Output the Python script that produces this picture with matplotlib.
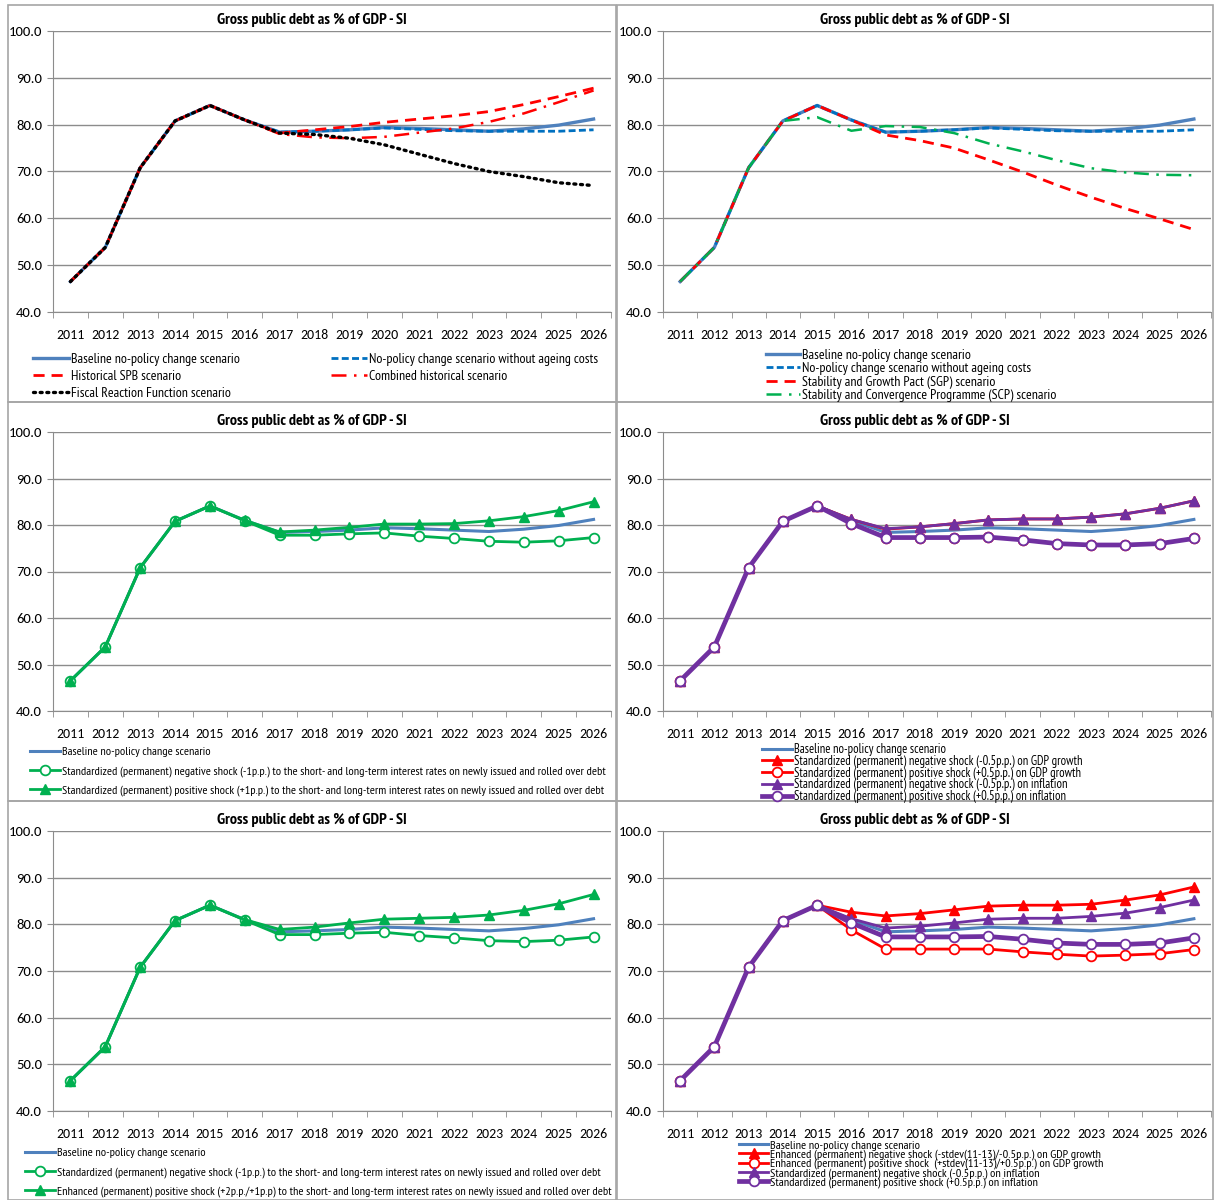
import matplotlib
matplotlib.use('Agg')
import matplotlib.pyplot as plt
from matplotlib.patches import Rectangle

years = [str(y) for y in range(2011, 2027)]

baseline = [46.5, 53.8, 70.8, 80.8, 84.1, 81.0, 78.4, 78.6, 78.9, 79.4, 79.2, 78.9, 78.6, 79.1, 79.9, 81.2]
no_ageing = [46.5, 53.8, 70.8, 80.8, 84.1, 81.0, 78.4, 78.6, 78.9, 79.3, 79.0, 78.7, 78.6, 78.6, 78.6, 78.9]
hist_spb = [46.5, 53.8, 70.8, 80.8, 84.1, 81.0, 78.2, 78.9, 79.6, 80.5, 81.2, 81.9, 82.8, 84.3, 86.0, 87.8]
combined = [46.5, 53.8, 70.8, 80.8, 84.1, 81.0, 78.0, 77.3, 77.1, 77.4, 78.3, 79.2, 80.6, 82.4, 84.8, 87.3]
frf = [46.5, 53.8, 70.8, 80.8, 84.1, 81.0, 78.2, 77.9, 77.1, 75.7, 73.7, 71.7, 70.0, 68.9, 67.6, 67.0]

sgp = [46.5, 53.8, 70.8, 80.8, 84.1, 81.0, 77.8, 76.6, 75.0, 72.5, 69.9, 67.1, 64.5, 62.1, 59.9, 57.6]
scp = [46.5, 53.8, 70.8, 80.8, 81.6, 78.7, 79.7, 79.5, 78.2, 76.0, 74.3, 72.4, 70.7, 69.8, 69.3, 69.2]

int_neg = [46.5, 53.8, 70.8, 80.8, 84.1, 80.9, 77.8, 77.8, 78.1, 78.3, 77.6, 77.1, 76.5, 76.3, 76.6, 77.3]
int_pos = [46.5, 53.8, 70.8, 80.8, 84.1, 81.0, 78.5, 78.9, 79.5, 80.2, 80.2, 80.3, 80.9, 81.8, 83.1, 85.0]
int_pos_enh = [46.5, 53.8, 70.8, 80.8, 84.1, 81.0, 78.9, 79.4, 80.3, 81.1, 81.3, 81.5, 82.0, 83.0, 84.4, 86.4]

gdp_neg = [46.5, 53.8, 70.8, 80.8, 84.1, 81.2, 79.1, 79.6, 80.3, 81.1, 81.3, 81.3, 81.7, 82.4, 83.6, 85.2]
gdp_pos = [46.5, 53.8, 70.8, 80.8, 84.1, 80.3, 77.3, 77.3, 77.3, 77.4, 76.8, 76.0, 75.7, 75.7, 76.0, 77.1]
infl_neg = [46.5, 53.8, 70.8, 80.8, 84.1, 81.2, 79.2, 79.6, 80.3, 81.1, 81.3, 81.3, 81.7, 82.4, 83.6, 85.2]
infl_pos = [46.5, 53.8, 70.8, 80.8, 84.1, 80.3, 77.3, 77.3, 77.3, 77.4, 76.8, 76.0, 75.7, 75.7, 76.0, 77.1]
gdp_neg_enh = [46.5, 53.8, 70.8, 80.8, 84.1, 82.6, 81.8, 82.3, 83.1, 83.9, 84.1, 84.1, 84.3, 85.2, 86.3, 88.0]
gdp_pos_enh = [46.5, 53.8, 70.8, 80.8, 84.1, 78.8, 74.7, 74.7, 74.7, 74.7, 74.1, 73.6, 73.2, 73.4, 73.7, 74.6]

title = 'Gross public debt as % of GDP - SI'

BLUE = '#4F81BD'
DBLUE = '#0070C0'
RED = '#FF0000'
GREEN = '#00B050'
PURPLE = '#7030A0'
GRID = '#8C8C8C'
TICK_FONT = ['Carlito', 'DejaVu Sans']

plt.rcParams['font.family'] = ['PT Sans Narrow', 'DejaVu Sans']

W, H = 1216, 1200
fig = plt.figure(figsize=(W / 100, H / 100), dpi=100)


def fx(px):
    return px / W


def fy(py):
    return 1 - py / H


def setup_axes(left, right, top, bottom, box):
    # рамка панели
    bx0, by0, bx1, by1 = box
    fig.patches.append(Rectangle((fx(bx0), fy(by1)), fx(bx1 - bx0), (by1 - by0) / H,
                                 transform=fig.transFigure, fill=False,
                                 edgecolor='#A6A6A6', linewidth=1.2))
    ax = fig.add_axes([fx(left), fy(bottom), fx(right - left), (bottom - top) / H])
    ax.set_xlim(-0.5, 15.5)
    ax.set_ylim(40, 100)
    ax.set_yticks(range(40, 101, 10))
    ax.set_yticklabels([f'{v:.1f}' for v in range(40, 101, 10)], fontsize=10.5, family=TICK_FONT)
    ax.set_xticks(range(len(years)))
    ax.set_xticklabels(years, fontsize=10, family=TICK_FONT)
    ax.set_xticks([i - 0.5 for i in range(len(years) + 1)], minor=True)
    ax.tick_params(axis='x', which='major', length=0, pad=12)
    ax.tick_params(axis='x', which='minor', length=4, color=GRID, direction='out')
    ax.tick_params(axis='y', length=4, color=GRID, pad=4)
    ax.grid(True, axis='y', color=GRID, linewidth=1)
    ax.set_axisbelow(True)
    for s in ['top', 'right']:
        ax.spines[s].set_visible(False)
    for s in ['left', 'bottom']:
        ax.spines[s].set_color(GRID)
    fig.text(fx((bx0 + bx1) / 2), fy(top - 11), title, ha='center', va='center',
             fontsize=11.5, fontweight='bold')
    return ax


def add_legend(handles, labels, x, y, size, spacing, hlen):
    fig.legend(handles, labels, loc='upper left', bbox_to_anchor=(fx(x), fy(y)),
               bbox_transform=fig.transFigure, frameon=False, fontsize=size,
               handlelength=hlen, handletextpad=0.15, labelspacing=spacing,
               borderpad=0, borderaxespad=0)


x = list(range(len(years)))

# --- панель 1 ---
ax = setup_axes(53, 611, 31, 312, (8, 5, 616, 402))
l1, = ax.plot(x, baseline, color=BLUE, lw=2.4)
l2, = ax.plot(x, no_ageing, color=DBLUE, lw=2, dashes=(2.5, 1.2))
l3, = ax.plot(x, hist_spb, color=RED, lw=2, dashes=(4, 2.5))
l4, = ax.plot(x, combined, color=RED, lw=1.8, dashes=(6, 3, 1, 3))
l5, = ax.plot(x, frf, color='black', lw=2.4, linestyle=(0, (0.6, 1.4)), dash_capstyle='round')
add_legend([l1, l3, l5], ['Baseline no-policy change scenario', 'Historical SPB scenario',
                          'Fiscal Reaction Function scenario'], 33, 353, 10, 0.3, 2.6)
add_legend([l2, l4], ['No-policy change scenario without ageing costs',
                      'Combined historical scenario'], 331, 353, 10, 0.3, 2.6)

# --- панель 2 ---
ax = setup_axes(663, 1211, 31, 312, (617, 5, 1213, 402))
l1, = ax.plot(x, baseline, color=BLUE, lw=2.4)
l2, = ax.plot(x, no_ageing, color=DBLUE, lw=2, dashes=(2.5, 1.2))
l3, = ax.plot(x, sgp, color=RED, lw=2, dashes=(4, 2.5))
l4, = ax.plot(x, scp, color=GREEN, lw=1.8, dashes=(6, 3, 1, 3))
add_legend([l1, l2, l3, l4], ['Baseline no-policy change scenario',
                              'No-policy change scenario without ageing costs',
                              'Stability and Growth Pact (SGP) scenario',
                              'Stability and Convergence Programme (SCP) scenario'],
           766, 349, 10, 0.02, 2.45)

# --- панель 3 ---
ax = setup_axes(53, 611, 432, 711, (8, 402, 616, 801))
l1, = ax.plot(x, baseline, color=BLUE, lw=2.2)
l2, = ax.plot(x, int_neg, color=GREEN, lw=2, marker='o', ms=7, mfc='white', mec=GREEN, mew=1.3)
l3, = ax.plot(x, int_pos, color=GREEN, lw=2, marker='^', ms=7)
add_legend([l1, l2, l3], ['Baseline no-policy change scenario',
                          'Standardized (permanent) negative shock (-1p.p.) to the short- and long-term interest rates on newly issued and rolled over debt',
                          'Standardized (permanent) positive shock (+1p.p.) to the short- and long-term interest rates on newly issued and rolled over debt'],
           30, 747, 8.7, 0.68, 2.5)

# --- панель 4 ---
ax = setup_axes(663, 1211, 432, 711, (617, 402, 1213, 801))
l1, = ax.plot(x, baseline, color=BLUE, lw=2.2)
l2, = ax.plot(x, gdp_neg, color=RED, lw=2, marker='^', ms=7)
l3, = ax.plot(x, gdp_pos, color=RED, lw=2, marker='o', ms=7, mfc='white', mec=RED, mew=1.3)
l4, = ax.plot(x, infl_neg, color=PURPLE, lw=2, marker='^', ms=7)
l5, = ax.plot(x, infl_pos, color=PURPLE, lw=3.4, marker='o', ms=7, mfc='white', mec=PURPLE, mew=1.3)
add_legend([l1, l2, l3, l4, l5], ['Baseline no-policy change scenario',
                                  'Standardized (permanent) negative shock (-0.5p.p.) on GDP growth',
                                  'Standardized (permanent) positive shock (+0.5p.p.) on GDP growth',
                                  'Standardized (permanent) negative shock (-0.5p.p.) on inflation',
                                  'Standardized (permanent) positive shock (+0.5p.p.) on inflation'],
           762, 743, 9, -0.1, 2.4)

# --- панель 5 ---
ax = setup_axes(53, 611, 831, 1111, (8, 801, 616, 1200))
l1, = ax.plot(x, baseline, color=BLUE, lw=2.2)
l2, = ax.plot(x, int_neg, color=GREEN, lw=2, marker='o', ms=7, mfc='white', mec=GREEN, mew=1.3)
l3, = ax.plot(x, int_pos_enh, color=GREEN, lw=2, marker='^', ms=7)
add_legend([l1, l2, l3], ['Baseline no-policy change scenario',
                          'Standardized (permanent) negative shock (-1p.p.) to the short- and long-term interest rates on newly issued and rolled over debt',
                          'Enhanced (permanent) positive shock (+2p.p./+1p.p) to the short- and long-term interest rates on newly issued and rolled over debt'],
           25, 1148, 8.7, 0.68, 2.5)

# --- панель 6 ---
ax = setup_axes(663, 1211, 831, 1111, (617, 801, 1213, 1200))
l1, = ax.plot(x, baseline, color=BLUE, lw=2.2)
l2, = ax.plot(x, gdp_neg_enh, color=RED, lw=2, marker='^', ms=7)
l3, = ax.plot(x, gdp_pos_enh, color=RED, lw=2, marker='o', ms=7, mfc='white', mec=RED, mew=1.3)
l4, = ax.plot(x, infl_neg, color=PURPLE, lw=2, marker='^', ms=7)
l5, = ax.plot(x, infl_pos, color=PURPLE, lw=3.4, marker='o', ms=7, mfc='white', mec=PURPLE, mew=1.3)
add_legend([l1, l2, l3, l4, l5], ['Baseline no-policy change scenario',
                                  'Enhanced (permanent) negative shock (-stdev(11-13)/-0.5p.p.) on GDP growth',
                                  'Enhanced (permanent) positive shock  (+stdev(11-13)/+0.5p.p.) on GDP growth',
                                  'Standardized (permanent) negative shock (-0.5p.p.) on inflation',
                                  'Standardized (permanent) positive shock (+0.5p.p.) on inflation'],
           739, 1140, 8.8, -0.14, 2.4)

fig.savefig('out.png', dpi=100)
plt.close(fig)
